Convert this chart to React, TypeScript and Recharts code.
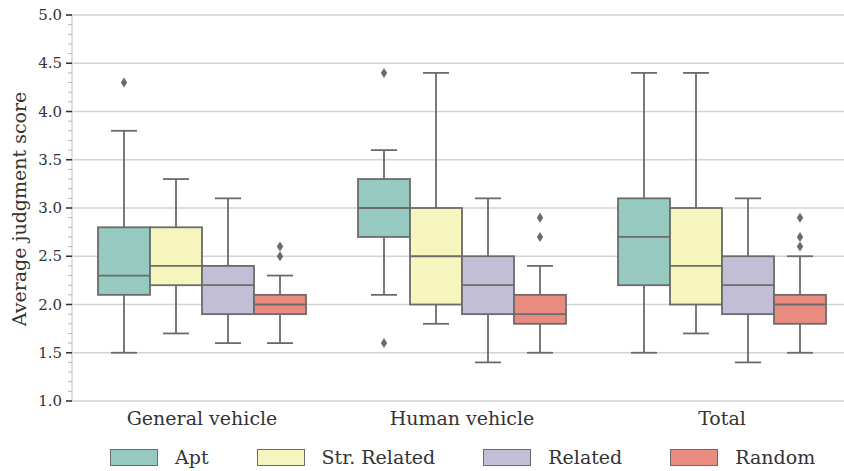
import {
  ComposedChart,
  Bar,
  XAxis,
  YAxis,
  CartesianGrid,
  Legend,
} from "recharts";

const CATEGORIES = ["General vehicle", "Human vehicle", "Total"];
const HUES = ["Apt", "Str. Related", "Related", "Random"];
const COLORS = ["#96cac1", "#f5f5bd", "#c1bed6", "#ea8b81"];

// [min, q1, median, q3, max] per category
const APT_STATS = [
  [1.5, 2.1, 2.3, 2.8, 3.8],
  [2.1, 2.7, 3.0, 3.3, 3.6],
  [1.5, 2.2, 2.7, 3.1, 4.4],
];
const STR_RELATED_STATS = [
  [1.7, 2.2, 2.4, 2.8, 3.3],
  [1.8, 2.0, 2.5, 3.0, 4.4],
  [1.7, 2.0, 2.4, 3.0, 4.4],
];
const RELATED_STATS = [
  [1.6, 1.9, 2.2, 2.4, 3.1],
  [1.4, 1.9, 2.2, 2.5, 3.1],
  [1.4, 1.9, 2.2, 2.5, 3.1],
];
const RANDOM_STATS = [
  [1.6, 1.9, 2.0, 2.1, 2.3],
  [1.5, 1.8, 1.9, 2.1, 2.4],
  [1.5, 1.8, 2.0, 2.1, 2.5],
];

const APT_OUTLIERS = [[4.3], [4.4, 1.6], []];
const STR_RELATED_OUTLIERS = [[], [], []];
const RELATED_OUTLIERS = [[], [], []];
const RANDOM_OUTLIERS = [[2.5, 2.6], [2.7, 2.9], [2.6, 2.7, 2.9]];

const MAJOR_TICKS = [1.0, 1.5, 2.0, 2.5, 3.0, 3.5, 4.0, 4.5, 5.0];
const ALL_TICKS = [
  1.0, 1.1, 1.2, 1.3, 1.4, 1.5, 1.6, 1.7, 1.8, 1.9, 2.0, 2.1, 2.2, 2.3, 2.4,
  2.5, 2.6, 2.7, 2.8, 2.9, 3.0, 3.1, 3.2, 3.3, 3.4, 3.5, 3.6, 3.7, 3.8, 3.9,
  4.0, 4.1, 4.2, 4.3, 4.4, 4.5, 4.6, 4.7, 4.8, 4.9, 5.0,
];

const STATS = [APT_STATS, STR_RELATED_STATS, RELATED_STATS, RANDOM_STATS];
const OUTLIERS = [APT_OUTLIERS, STR_RELATED_OUTLIERS, RELATED_OUTLIERS, RANDOM_OUTLIERS];

const LINE = "#6b6b6b";
const FONT = "'DejaVu Serif', serif";

const data = CATEGORIES.map((category, ci) => ({
  category,
  stats: STATS.map((s) => s[ci]),
  outliers: OUTLIERS.map((o) => o[ci]),
}));

function BoxShape(props: any) {
  const { x, y, width, height, payload, hue, fill } = props;
  const [min, q1, med, q3, max] = payload.stats[hue];
  const top = Math.min(y, y + height);
  const h = Math.abs(height);
  // map values through the bar's own pixel range (q3 -> top, q1 -> bottom)
  const py = (v: number) => top + (h * (q3 - v)) / (q3 - q1);
  const cx = x + width / 2;
  const cap = width / 4;
  return (
    <g>
      <line x1={cx} x2={cx} y1={py(q3)} y2={py(max)} stroke={LINE} strokeWidth={1.8} />
      <line x1={cx} x2={cx} y1={py(q1)} y2={py(min)} stroke={LINE} strokeWidth={1.8} />
      <line x1={cx - cap} x2={cx + cap} y1={py(max)} y2={py(max)} stroke={LINE} strokeWidth={1.8} />
      <line x1={cx - cap} x2={cx + cap} y1={py(min)} y2={py(min)} stroke={LINE} strokeWidth={1.8} />
      <rect x={x} y={top} width={width} height={h} fill={fill} stroke={LINE} strokeWidth={1.8} />
      <line x1={x} x2={x + width} y1={py(med)} y2={py(med)} stroke={LINE} strokeWidth={1.8} />
      {payload.outliers[hue].map((v: number, i: number) => (
        <path
          key={i}
          d={`M${cx},${py(v) - 5}L${cx + 3.2},${py(v)}L${cx},${py(v) + 5}L${cx - 3.2},${py(v)}Z`}
          fill={LINE}
        />
      ))}
    </g>
  );
}

function YTick(props: any) {
  const { x, y, payload } = props;
  const v = payload.value;
  const major = Math.abs(v * 2 - Math.round(v * 2)) < 1e-6;
  if (!major) {
    return <line x1={x - 4} x2={x} y1={y} y2={y} stroke="#b5b5b5" strokeWidth={1} />;
  }
  return (
    <g>
      <line x1={x - 6} x2={x} y1={y} y2={y} stroke="#333" strokeWidth={1.6} />
      <text x={x - 10} y={y + 5} textAnchor="end" fontFamily={FONT} fontSize={15} fill="#333">
        {v.toFixed(1)}
      </text>
    </g>
  );
}

function YLabel() {
  return (
    <text
      x={0}
      y={0}
      transform="translate(26,209) rotate(-90)"
      textAnchor="middle"
      fontFamily={FONT}
      fontSize={19}
      fill="#333"
    >
      Average judgment score
    </text>
  );
}

function LegendContent() {
  return (
    <div
      style={{
        display: "flex",
        alignItems: "center",
        height: 24,
        paddingLeft: 110,
        gap: 48,
        fontFamily: FONT,
        fontSize: 19,
        color: "#333",
      }}
    >
      {HUES.map((h, i) => (
        <div key={h} style={{ display: "flex", alignItems: "center" }}>
          <div
            style={{
              width: 46,
              height: 15,
              background: COLORS[i],
              border: `1px solid ${LINE}`,
              marginRight: 17,
            }}
          />
          <span style={{ lineHeight: "24px", whiteSpace: "nowrap" }}>{h}</span>
        </div>
      ))}
    </div>
  );
}

export default function App() {
  return (
    <div
      style={{
        position: "absolute",
        left: 0,
        top: 0,
        width: 844,
        height: 471,
        overflow: "hidden",
        background: "#fff",
      }}
    >
      <ComposedChart
        width={852}
        height={471}
        data={data}
        margin={{ top: 15, right: 0, bottom: 20, left: 12 }}
        barCategoryGap="10%"
        barGap={0}
      >
        <CartesianGrid
          vertical={false}
          horizontalValues={MAJOR_TICKS}
          stroke="#d3d3d3"
          strokeWidth={1.3}
        />
        <XAxis
          dataKey="category"
          axisLine={false}
          tickLine={false}
          tickSize={0}
          tickMargin={11}
          height={26}
          interval={0}
          tick={{ fontFamily: FONT, fontSize: 19, fill: "#333" }}
        />
        <YAxis
          domain={[1, 5]}
          ticks={ALL_TICKS}
          interval={0}
          width={60}
          tickSize={0}
          tickMargin={0}
          tickLine={false}
          axisLine={{ stroke: "#cfcfcf", strokeWidth: 1.3 }}
          tick={<YTick />}
          label={<YLabel />}
        />
        {HUES.map((h, i) => (
          <Bar
            key={h}
            name={h}
            dataKey={(row: any) => [row.stats[i][1], row.stats[i][3]]}
            fill={COLORS[i]}
            isAnimationActive={false}
            shape={(p: any) => <BoxShape {...p} hue={i} />}
          />
        ))}
        <Legend
          content={<LegendContent />}
          verticalAlign="bottom"
          wrapperStyle={{ top: 445, left: 0, width: 852 }}
        />
      </ComposedChart>
    </div>
  );
}
